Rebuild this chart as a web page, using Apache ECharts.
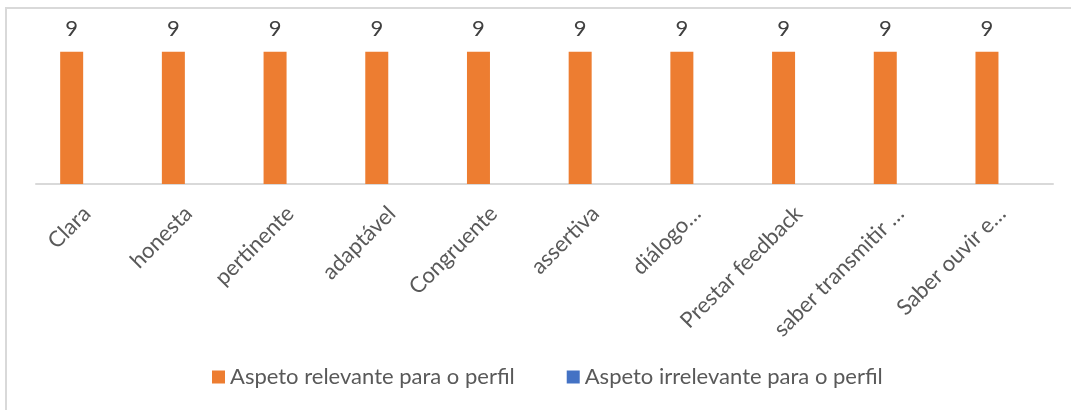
<!DOCTYPE html>
<html>
<head>
<meta charset="utf-8">
<script src="https://cdn.jsdelivr.net/npm/echarts@6/dist/echarts.min.js"></script>
<style>
html,body{margin:0;padding:0;background:#fff;}
#frame{position:absolute;left:5px;top:7px;width:1080px;height:420px;border-left:2px solid #d9d9d9;border-top:2px solid #d9d9d9;box-sizing:border-box;}
#chart{position:absolute;left:0;top:0;width:1071px;height:410px;}
</style>
</head>
<body>
<div id="frame"></div>
<div id="chart"></div>
<script>
const categories = ['Clara','honesta','pertinente','adaptável','Congruente','assertiva','diálogo…','Prestar feedback','saber transmitir …','Saber ouvir e…'];
const seriesNames = ['Aspeto relevante para o perfil','Aspeto irrelevante para o perfil'];
const relevante = [9,9,9,9,9,9,9,9,9,9];
const irrelevante = [0,0,0,0,0,0,0,0,0,0];

const FONT = 'Lato';
const chart = echarts.init(document.getElementById('chart'), null, {renderer:'canvas'});
chart.setOption({
  animation:false,
  textStyle:{fontFamily:FONT},
  grid:{left:36,right:18,top:37,bottom:226,containLabel:false},
  legend:{
    left:207, top:361,
    itemWidth:13, itemHeight:13, itemGap:52,
    icon:'rect',
    textStyle:{fontFamily:FONT,fontSize:22,color:'#595959',padding:[0,0,0,0]},
    data:seriesNames
  },
  xAxis:{
    type:'category',
    data:categories,
    axisLine:{show:true,lineStyle:{color:'#d9d9d9',width:2}},
    axisTick:{show:false},
    axisLabel:{rotate:45,interval:0,margin:26,fontFamily:FONT,fontSize:22,color:'#595959'}
  },
  yAxis:{type:'value',min:0,max:10,show:false,splitLine:{show:false}},
  series:[
    {name:seriesNames[0],type:'bar',data:relevante,barWidth:23,barGap:'32%',
     itemStyle:{color:'#ED7D31'},
     label:{show:true,position:'top',distance:12,fontFamily:FONT,fontSize:22,color:'#404040'}},
    {name:seriesNames[1],type:'bar',data:irrelevante,barWidth:23,
     itemStyle:{color:'#4472C4'}}
  ]
});
</script>
</body>
</html>
